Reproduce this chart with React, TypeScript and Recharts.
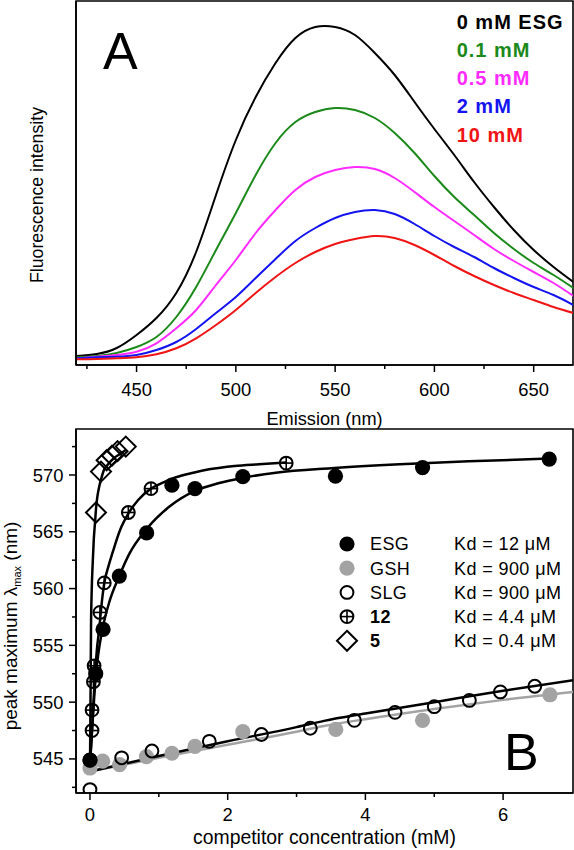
import React from 'react';
import { LineChart, ComposedChart, Line, Scatter, XAxis, YAxis, ReferenceArea } from 'recharts';

const FONT = "Arial, 'Liberation Sans', Helvetica, sans-serif";

// ---------- Panel A: emission spectra ----------
const wavelength = [420, 430, 440, 450, 460, 470, 480, 490, 500, 510, 520, 530, 540, 550, 560, 570, 580, 590, 600, 610, 620, 630, 640, 650, 660, 670];
const spec0mM = [9, 11, 17, 30, 47, 72, 113, 170, 225, 268, 302, 327, 338, 338, 330, 312, 290, 263, 236, 210, 183, 158, 135, 115, 98, 83];
const spec01mM = [7.7, 9, 12, 18, 28, 48, 78, 115, 152, 190, 222, 243, 253, 257, 255, 247, 232, 212, 189, 168, 150, 132, 116, 102, 90, 77];
const spec05mM = [6.7, 8.3, 10, 13.3, 21.7, 36.7, 55, 80, 105, 132, 155, 175, 188, 195, 198, 196, 187, 173, 158, 144, 130, 116, 104, 93, 82, 69];
const spec2mM = [6.7, 7.7, 8.3, 10, 15, 23, 36, 52, 68, 87, 106, 124, 137, 147, 153, 155, 151, 141, 129, 118, 108, 97, 87, 78, 70, 60];
const spec10mM = [5.7, 6, 6.7, 7.7, 10.7, 16.7, 26.7, 40, 55, 72, 88, 102, 113, 121, 126, 129, 127, 120, 110, 99, 89, 80, 72, 65, 58, 52];

const spectraKeys = ['s0', 's01', 's05', 's2', 's10'];
const spectraNames = ['0 mM ESG', '0.1 mM', '0.5 mM', '2 mM', '10 mM'];
const spectraColors = ['#000000', '#1b8a1b', '#ff2bff', '#1414f0', '#f01414'];
const spectraValues = [spec0mM, spec01mM, spec05mM, spec2mM, spec10mM];

const xTicksA = [425, 450, 475, 500, 525, 550, 575, 600, 625, 650];
const xMajorA = [450, 500, 550, 600, 650];

const spectraRows = wavelength.map((w, i) => {
  const row: any = { w };
  spectraKeys.forEach((k, j) => { row[k] = spectraValues[j][i]; });
  return row;
});

// ---------- Panel B: peak maximum vs competitor ----------
const esgConc = [0, 0.083, 0.19, 0.426, 0.823, 1.19, 1.525, 2.22, 3.565, 4.83, 6.67];
const esgPeak = [544.9, 552.5, 556.4, 561.1, 564.9, 569.1, 568.8, 569.85, 569.9, 570.65, 571.4];
const gshConc = [0, 0.184, 0.43, 0.82, 1.19, 1.525, 2.22, 3.57, 4.83, 6.68];
const gshPeak = [544.2, 544.8, 544.5, 545.2, 545.5, 546.1, 547.4, 547.6, 548.4, 550.65];
const slgConc = [0, 0.46, 0.9, 1.733, 2.49, 3.2, 3.84, 4.43, 5.0, 5.51, 5.96, 6.46];
const slgPeak = [542.3, 545.1, 545.7, 546.55, 547.15, 547.7, 548.4, 549.1, 549.6, 550.15, 550.9, 551.4];
const c12Conc = [0, 0.03, 0.03, 0.05, 0.06, 0.145, 0.208, 0.557, 0.886, 2.85];
const c12Peak = [544.9, 547.5, 549.3, 551.8, 553.2, 557.9, 560.5, 566.7, 568.8, 571.05];
const c5Conc = [0.087, 0.16, 0.242, 0.32, 0.4, 0.52];
const c5Peak = [566.7, 570.3, 571.3, 571.7, 572.1, 572.5];

const esgFitConc = [0, 0.03, 0.06, 0.083, 0.12, 0.184, 0.28, 0.426, 0.571, 0.823, 1.15, 1.525, 1.878, 2.22, 2.7, 3.5, 4.5, 5.5, 6.67];
const esgFitPeak = [544.5, 547.5, 550.3, 552.2, 554.2, 556.5, 558.8, 561.1, 563.05, 565.25, 567.2, 568.6, 569.3, 569.75, 570.2, 570.6, 570.95, 571.2, 571.45];
const c12FitConc = [0, 0.02, 0.04, 0.06, 0.08, 0.1, 0.135, 0.17, 0.208, 0.27, 0.33, 0.44, 0.557, 0.7, 0.886, 1.05, 1.25, 1.5, 1.73, 2.1, 2.45, 2.85];
const c12FitPeak = [544.5, 546.5, 548.7, 551, 553, 554.6, 556.5, 558.7, 560.5, 562, 563.2, 565.2, 566.6, 567.8, 568.8, 569.3, 569.8, 570.2, 570.5, 570.8, 570.95, 571.1];
const c5FitConc = [0, 0.005, 0.01, 0.015, 0.025, 0.04, 0.055, 0.073, 0.09, 0.11, 0.135, 0.16, 0.2, 0.257, 0.35, 0.45, 0.52];
const c5FitPeak = [544, 548, 552, 556.5, 559.8, 562.3, 564.3, 565.8, 567.2, 568.2, 569, 569.6, 570.4, 570.9, 571.5, 571.9, 572.2];
const slgFitConc = [0, 1, 2, 3, 3.4, 4, 5, 6, 7.1];
const slgFitPeak = [543.9, 545.25, 546.55, 547.8, 548.35, 549.0, 550.0, 551.0, 552.0];
const gshFitConc = [0, 1, 2, 3, 3.4, 4, 5, 6, 7.1];
const gshFitPeak = [543.9, 545.1, 546.25, 547.4, 547.9, 548.5, 549.4, 550.2, 550.95];

const competitorNames = ['ESG', 'GSH', 'SLG', '12', '5'];
const competitorKd = ['Kd = 12 μM', 'Kd = 900 μM', 'Kd = 900 μM', 'Kd = 4.4 μM', 'Kd = 0.4 μM'];
const competitorBold = [false, false, false, true, true];

const xTicksB = [0, 1, 2, 3, 4, 5, 6];
const xMajorB = [0, 2, 4, 6];
const yTicksB = [542.5, 545, 547.5, 550, 552.5, 555, 557.5, 560, 562.5, 565, 567.5, 570, 572.5];
const yMajorB = [545, 550, 555, 560, 565, 570];

const pts = (c: number[], v: number[]) => c.map((x, i) => ({ c: x, v: v[i] }));

// ---------- marker shapes ----------
const GRAY = '#a3a3a3';
const FilledMark = ({ cx, cy, fill }: any) => <circle cx={cx} cy={cy} r={7.6} fill={fill} />;
const OpenMark = ({ cx, cy }: any) => <circle cx={cx} cy={cy} r={6.4} fill="none" stroke="#000" strokeWidth={2} />;
const PlusMark = ({ cx, cy }: any) => (
  <g>
    <circle cx={cx} cy={cy} r={6.4} fill="none" stroke="#000" strokeWidth={2} />
    <line x1={cx - 6.4} x2={cx + 6.4} y1={cy} y2={cy} stroke="#000" strokeWidth={1.6} />
    <line x1={cx} x2={cx} y1={cy - 6.4} y2={cy + 6.4} stroke="#000" strokeWidth={1.6} />
  </g>
);
const DiamondMark = ({ cx, cy }: any) => (
  <path d={`M${cx},${cy - 10} L${cx + 10},${cy} L${cx},${cy + 10} L${cx - 10},${cy} Z`} fill="none" stroke="#000" strokeWidth={2} />
);
const markRenderers = [
  (p: any) => <FilledMark {...p} fill="#000" />,
  (p: any) => <FilledMark {...p} fill={GRAY} />,
  (p: any) => <OpenMark {...p} />,
  (p: any) => <PlusMark {...p} />,
  (p: any) => <DiamondMark {...p} />,
];

// ---------- tick renderers ----------
const xTickRenderer = (majors: number[], labelGap: number, size: number) => (props: any) => {
  const { x, y, payload } = props;
  const major = majors.includes(payload.value);
  return (
    <g>
      <line x1={x} x2={x} y1={y - 7} y2={major ? y : y - 3} stroke="#000" strokeWidth={1.5} />
      {major && (
        <text x={x} y={y + labelGap} dy="0.71em" textAnchor="middle" fontSize={size} fontFamily={FONT} fill="#000">
          {payload.value}
        </text>
      )}
    </g>
  );
};

const yTickRenderer = (majors: number[], size: number) => (props: any) => {
  const { x, y, payload } = props;
  const major = majors.includes(payload.value);
  return (
    <g>
      <line x1={major ? x : x + 3} x2={x + 7} y1={y} y2={y} stroke="#000" strokeWidth={1.5} />
      {major && (
        <text x={x - 5.5} y={y} dy="0.355em" textAnchor="end" fontSize={size} fontFamily={FONT} fill="#000">
          {payload.value}
        </text>
      )}
    </g>
  );
};

const axisLineStyle = { stroke: '#000', strokeWidth: 1.6 };

export default function App() {
  return (
    <div style={{ position: 'absolute', left: 0, top: 0, width: 574, height: 850, background: '#fff', fontFamily: FONT }}>
      <div style={{ position: 'absolute', left: 0, top: 0 }}>
        <LineChart width={574} height={430} data={spectraRows} margin={{ top: 1, right: 1, bottom: 0, left: 0 }}>
          <XAxis
            dataKey="w"
            type="number"
            domain={[419.5, 669.8]}
            allowDataOverflow
            ticks={xTicksA}
            interval={0}
            tickSize={7}
            tickMargin={0}
            tickLine={false}
            axisLine={axisLineStyle}
            height={65}
            tick={xTickRenderer(xMajorA, 10.5, 18.4)}
            label={() => (
              <text x={324.5} y={425} textAnchor="middle" fontSize={18.2} fontFamily={FONT} fill="#000">
                Emission (nm)
              </text>
            )}
          />
          <YAxis
            type="number"
            domain={[0, 364]}
            allowDataOverflow
            width={76}
            tick={false}
            tickLine={false}
            axisLine={axisLineStyle}
            label={() => (
              <text x={42.5} y={195} transform="rotate(-90 42.5 195)" textAnchor="middle" fontSize={17.7} fontFamily={FONT} fill="#000">
                Fluorescence intensity
              </text>
            )}
          />
          <ReferenceArea x1={419.5} x2={669.8} y1={0} y2={364} fill="none" stroke="#000" strokeWidth={1.6} />
          {spectraKeys.map((k, j) => (
            <Line
              key={k}
              dataKey={k}
              name={spectraNames[j]}
              type="natural"
              stroke={spectraColors[j]}
              strokeWidth={2}
              dot={false}
              isAnimationActive={false}
            />
          ))}
          <text x={103} y={69.3} fontSize={52} fontFamily={FONT} fill="#000">A</text>
          <g>
            {spectraNames.map((n, j) => (
              <text key={n} x={456.7} y={28.5 + j * 28.3} fontSize={20} fontWeight="bold" letterSpacing={1} fontFamily={FONT} fill={spectraColors[j]}>
                {n}
              </text>
            ))}
          </g>
        </LineChart>
      </div>

      <div style={{ position: 'absolute', left: 0, top: 420 }}>
        <ComposedChart width={574} height={430} margin={{ top: 9, right: 1, bottom: 0, left: 0 }}>
          <XAxis
            dataKey="c"
            type="number"
            domain={[-0.203, 7.015]}
            allowDataOverflow
            ticks={xTicksB}
            interval={0}
            tickSize={7}
            tickMargin={0}
            tickLine={false}
            axisLine={axisLineStyle}
            height={57}
            tick={xTickRenderer(xMajorB, 8, 18.4)}
            label={() => (
              <text x={324.5} y={424} textAnchor="middle" fontSize={19.4} fontFamily={FONT} fill="#000">
                competitor concentration (mM)
              </text>
            )}
          />
          <YAxis
            type="number"
            domain={[542.0, 574.05]}
            allowDataOverflow
            width={76}
            ticks={yTicksB}
            interval={0}
            tickSize={7}
            tickMargin={0}
            tickLine={false}
            axisLine={axisLineStyle}
            tick={yTickRenderer(yMajorB, 18.4)}
            label={() => (
              <text x={16.5} y={206} transform="rotate(-90 16.5 206)" textAnchor="middle" fontSize={19} fontFamily={FONT} fill="#000">
                peak maximum λ<tspan fontSize={11} dy={4}>max</tspan>
                <tspan dy={-4}> (nm)</tspan>
              </text>
            )}
          />
          <ReferenceArea x1={-0.203} x2={7.015} y1={542.0} y2={574.05} fill="none" stroke="#000" strokeWidth={1.6} />
          <Scatter data={pts(gshConc, gshPeak)} dataKey="v" shape={markRenderers[1]} isAnimationActive={false} />
          <Line data={pts(gshFitConc, gshFitPeak)} dataKey="v" type="monotone" stroke={GRAY} strokeWidth={2.5} dot={false} isAnimationActive={false} />
          <Line data={pts(slgFitConc, slgFitPeak)} dataKey="v" type="monotone" stroke="#000" strokeWidth={2.5} dot={false} isAnimationActive={false} />
          <Line data={pts(esgFitConc, esgFitPeak)} dataKey="v" type="monotone" stroke="#000" strokeWidth={2.5} dot={false} isAnimationActive={false} />
          <Line data={pts(c12FitConc, c12FitPeak)} dataKey="v" type="monotone" stroke="#000" strokeWidth={2.5} dot={false} isAnimationActive={false} />
          <Line data={pts(c5FitConc, c5FitPeak)} dataKey="v" type="monotone" stroke="#000" strokeWidth={2.5} dot={false} isAnimationActive={false} />
          <Scatter data={pts(esgConc, esgPeak)} dataKey="v" shape={markRenderers[0]} isAnimationActive={false} />
          <Scatter data={pts(slgConc, slgPeak)} dataKey="v" shape={markRenderers[2]} isAnimationActive={false} />
          <Scatter data={pts(c12Conc, c12Peak)} dataKey="v" shape={markRenderers[3]} isAnimationActive={false} />
          <Scatter data={pts(c5Conc, c5Peak)} dataKey="v" shape={markRenderers[4]} isAnimationActive={false} />
          <text x={504} y={350} fontSize={52} fontFamily={FONT} fill="#000">B</text>
          <g>
            {competitorNames.map((n, j) => {
              const cy = 124 + j * 24.2;
              return (
                <g key={n}>
                  {markRenderers[j]({ cx: 347, cy })}
                  <text x={370} y={cy} dy="0.355em" fontSize={18} letterSpacing={0.4} fontWeight={competitorBold[j] ? 'bold' : 'normal'} fontFamily={FONT} fill="#000">
                    {n}
                  </text>
                  <text x={454} y={cy} dy="0.355em" fontSize={18} letterSpacing={0.4} fontFamily={FONT} fill="#000">
                    {competitorKd[j]}
                  </text>
                </g>
              );
            })}
          </g>
        </ComposedChart>
      </div>
    </div>
  );
}
